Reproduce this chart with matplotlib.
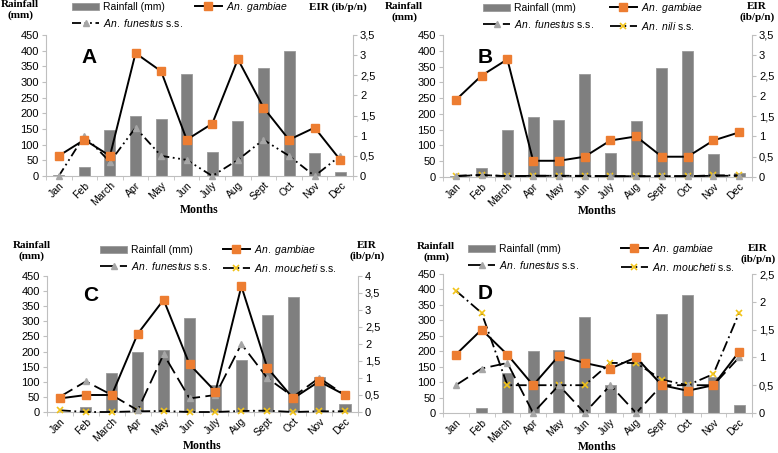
import matplotlib
matplotlib.use("Agg")
import matplotlib.pyplot as plt
import numpy as np

plt.rcParams['font.family'] = ['Liberation Sans', 'DejaVu Sans']
plt.rcParams['mathtext.fontset'] = 'custom'
plt.rcParams['mathtext.it'] = 'Liberation Sans:italic'
plt.rcParams['mathtext.rm'] = 'Liberation Sans'

months = ["Jan", "Feb", "March", "Apr", "May", "Jun", "July", "Aug", "Sept", "Oct", "Nov", "Dec"]

# Panel A
rain_A = [2, 30, 147, 190, 182, 325, 76, 176, 344, 398, 73, 14]
gamb_A = [0.5, 0.9, 0.5, 3.05, 2.6, 0.9, 1.3, 2.9, 1.7, 0.9, 1.2, 0.4]
fun_A = [0.0, 1.0, 0.35, 1.2, 0.5, 0.4, 0.0, 0.4, 0.9, 0.5, 0.0, 0.5]

# Panel B
rain_B = [3, 28, 148, 190, 182, 326, 77, 177, 344, 398, 72, 13]
gamb_B = [1.9, 2.5, 2.9, 0.4, 0.4, 0.5, 0.9, 1.0, 0.5, 0.5, 0.9, 1.1]
fun_B = [0.02, 0.05, 0.02, 0.03, 0.03, 0.03, 0.02, 0.02, 0.02, 0.02, 0.03, 0.03]
nili_B = [0.03, 0.05, 0.02, 0.03, 0.03, 0.02, 0.02, 0.02, 0.02, 0.02, 0.04, 0.04]

# Panel C
rain_C = [1, 18, 128, 200, 205, 311, 90, 172, 320, 382, 115, 25]
gamb_C = [0.4, 0.5, 0.5, 2.3, 3.3, 1.4, 0.6, 3.7, 1.3, 0.4, 0.9, 0.5]
fun_C = [0.45, 0.9, 0.5, 0.05, 1.7, 0.4, 0.5, 2.0, 1.0, 0.45, 1.0, 0.5]
mouch_C = [0.05, 0.0, 0.0, 0.02, 0.03, 0.0, 0.0, 0.03, 0.04, 0.0, 0.02, 0.02]

# Panel D
rain_D = [0, 17, 128, 200, 203, 311, 90, 165, 322, 382, 115, 25]
gamb_D = [1.05, 1.5, 1.05, 0.5, 1.03, 0.9, 0.8, 1.0, 0.5, 0.4, 0.5, 1.1]
fun_D = [0.5, 0.8, 0.9, 0.0, 0.5, 0.0, 0.5, 0.0, 0.5, 0.5, 0.5, 1.0]
mouch_D = [2.2, 1.8, 0.5, 0.5, 0.5, 0.5, 0.9, 0.9, 0.6, 0.5, 0.7, 1.8]

W, H = 778, 453
fig = plt.figure(figsize=(W / 100, H / 100), dpi=100)

def fx(px):
    return px / W

def fy(py):
    return 1 - py / H

GRAY_BAR = '#7f7f7f'
ORANGE = '#ED7D31'
TRI = '#A6A6A6'
YEL = '#F2C318'
SPINE = '#BFBFBF'
serif = ['Liberation Serif', 'DejaVu Serif']

fun_style_A = (0, (5, 2, 1, 2, 1, 2))

def panel(rect, letter, rain, gamb, fun, other, other_label, eir_max, eir_ticks,
          fun_ls, letter_pos, rain_lbl, eir_lbl, eir_one_line, leg_anchor, colspace):
    ax = fig.add_axes(rect)
    x = np.arange(len(months))
    bars = ax.bar(x, rain, width=0.43, color=GRAY_BAR, edgecolor='#9a9a9a', linewidth=0.6,
                  label='Rainfall (mm)', zorder=2)
    ax.set_xlim(-0.5, 11.5)
    ax.set_ylim(0, 450)
    ax.set_yticks(np.arange(0, 451, 50))
    ax.set_xticks(x)
    ax.set_xticklabels(months, rotation=45, fontsize=7.5, ha='right', rotation_mode='anchor')
    ax.set_xticks(np.arange(-0.5, 12, 1), minor=True)
    ax.tick_params(axis='x', which='major', length=0, pad=3)
    ax.tick_params(axis='x', which='minor', length=3, color=SPINE)
    ax.tick_params(axis='y', labelsize=8, length=3, color=SPINE, pad=2)
    for s in ['top', 'right']:
        ax.spines[s].set_visible(False)
    ax.spines['left'].set_color(SPINE)
    ax.spines['bottom'].set_color(SPINE)
    ax.set_xlabel('Months', fontsize=8.5, fontweight='bold', family=serif, labelpad=-2.5)

    ax2 = ax.twinx()
    ax2.set_ylim(0, eir_max)
    ax2.set_yticks(eir_ticks)
    ax2.set_yticklabels([('%g' % t).replace('.', ',') for t in eir_ticks])
    ax2.tick_params(axis='y', labelsize=8, length=3, color=SPINE, pad=2)
    for s in ['top', 'left', 'bottom']:
        ax2.spines[s].set_visible(False)
    ax2.spines['right'].set_color(SPINE)

    l1, = ax2.plot(x, gamb, color='black', lw=1.4, marker='s', ms=5.5, mfc=ORANGE, mec=ORANGE,
                   label=r'$\it{An.\ gambiae}$', zorder=5, clip_on=False)
    l2, = ax2.plot(x, fun, color='black', lw=1.3, ls=fun_ls, marker='^', ms=5, mfc=TRI, mec=TRI,
                   label=r'$\it{An.\ funestus}$ s.s.', zorder=4, clip_on=False)
    handles = [bars, l2, l1]
    if other is not None:
        l3, = ax2.plot(x, other, color='black', lw=1.3, ls=(0, (6, 2, 1, 2)), marker='x', ms=5,
                       mew=1.2, mec=YEL, label=r'$\it{' + other_label + r'}$ s.s.', zorder=3, clip_on=False)
        handles.append(l3)

    ax.text(letter_pos[0], letter_pos[1], letter, transform=ax.transAxes, fontsize=15,
            fontweight='bold', ha='center', va='center')

    fig.text(fx(rain_lbl[0]), fy(rain_lbl[1]), 'Rainfall\n(mm)', ha='center', va='top',
             fontsize=8, fontweight='bold', family=serif, linespacing=1.25)
    if eir_one_line:
        fig.text(fx(eir_lbl[0]), fy(eir_lbl[1]), 'EIR (ib/p/n)', ha='center', va='top',
                 fontsize=8, fontweight='bold', family=serif)
    else:
        fig.text(fx(eir_lbl[0]), fy(eir_lbl[1]), 'EIR\n(ib/p/n)', ha='center', va='top',
                 fontsize=8, fontweight='bold', family=serif, linespacing=1.25)

    fig.legend(handles=handles, labels=[h.get_label() for h in handles], ncol=2,
               loc='upper left', bbox_to_anchor=(fx(leg_anchor[0]), fy(leg_anchor[1])),
               frameon=False, fontsize=7.5, borderpad=0, borderaxespad=0, handlelength=2.6,
               handletextpad=0.4, columnspacing=colspace, labelspacing=0.45)
    return ax, ax2

panel([fx(46), fy(176), fx(353) - fx(46), fy(35) - fy(176)], 'A', rain_A, gamb_A, fun_A, None, None,
      3.5, np.arange(0, 3.51, 0.5), fun_style_A, (0.14, 0.84), (20, 0), (338, 2), True, (72, 0), 1.1)
panel([fx(443), fy(177), fx(752) - fx(443), fy(35) - fy(177)], 'B', rain_B, gamb_B, fun_B, nili_B,
      r'An.\ nili', 3.5, np.arange(0, 3.51, 0.5), (0, (8, 3)), (0.135, 0.84), (404, 2), (757, 2), False,
      (483, 1), 1.5)
panel([fx(47), fy(412), fx(358) - fx(47), fy(276) - fy(412)], 'C', rain_C, gamb_C, fun_C, mouch_C,
      r'An.\ moucheti', 4, np.arange(0, 4.01, 0.5), (0, (8, 3)), (0.14, 0.86), (32, 241), (367, 241), False,
      (100, 243), 1.1)
panel([fx(443), fy(413), fx(752) - fx(443), fy(274) - fy(413)], 'D', rain_D, gamb_D, fun_D, mouch_D,
      r'An.\ moucheti', 2.5, np.arange(0, 2.51, 0.5), (0, (8, 3)), (0.135, 0.86), (436, 242), (758, 244), False,
      (468, 242), 4.0)

fig.savefig('out.png', dpi=100)
